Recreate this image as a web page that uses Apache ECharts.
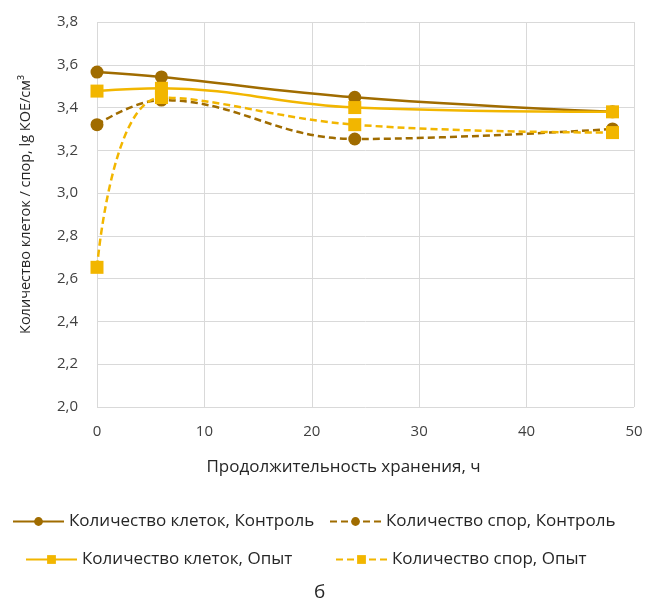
<!DOCTYPE html>
<html>
<head>
<meta charset="utf-8">
<script src="https://cdn.jsdelivr.net/npm/echarts@6/dist/echarts.min.js"></script>
<style>
html,body{margin:0;padding:0;background:#fff;}
#chart{width:654px;height:603px;}
</style>
</head>
<body>
<div id="chart"></div>
<script>
// время хранения, ч
var hours = [0, 6, 24, 48];
var cellsControl = [3.566, 3.543, 3.448, 3.38];
var sporesControl = [3.32, 3.435, 3.253, 3.30];
var cellsExp = [3.477, 3.49, 3.40, 3.38];
var sporesExp = [2.653, 3.447, 3.32, 3.283];

var seriesNames = [
    "Количество клеток, Контроль",
    "Количество спор, Контроль",
    "Количество клеток, Опыт",
    "Количество спор, Опыт"
];

var dark = "#A06C00";
var yellow = "#F2B600";
var font = "Open Sans";

function pairs(y){
    var res = [];
    for (var i = 0; i < hours.length; i++){
        res.push([hours[i], y[i]]);
    }
    return res;
}

function mkSeries(name, y, color, dashed, symbol){
    return {
        name: name,
        type: 'line',
        smooth: 0.4,
        data: pairs(y),
        symbol: symbol,
        symbolSize: 13,
        showSymbol: true,
        lineStyle: {color: color, width: 2.5, type: dashed ? [7, 4] : 'solid'},
        itemStyle: {color: color},
        emphasis: {disabled: true}
    };
}

function mkLegend(name, left, top){
    return {
        data: [name],
        left: left,
        top: top,
        itemWidth: 51,
        itemHeight: 11,
        itemGap: 0,
        textStyle: {fontFamily: font, fontSize: 17, color: '#262626'}
    };
}

var chart = echarts.init(document.getElementById('chart'));
var option = {
    animation: false,
    grid: {left: 97, right: 20, top: 22, bottom: 196},
    xAxis: {
        type: 'value',
        min: 0, max: 50, interval: 10,
        name: 'Продолжительность хранения, ч',
        nameLocation: 'middle',
        nameGap: 52,
        nameTextStyle: {fontFamily: font, fontSize: 17, color: '#262626', padding: [0, 44, 0, 0]},
        axisLine: {show: false},
        axisTick: {show: false},
        axisLabel: {fontFamily: font, fontSize: 15, color: '#404040', margin: 17},
        splitLine: {lineStyle: {color: '#d9d9d9', width: 1}}
    },
    yAxis: {
        type: 'value',
        min: 2.0, max: 3.8, interval: 0.2,
        name: 'Количество клеток / спор, lg КОЕ/см³',
        nameLocation: 'middle',
        nameRotate: 90,
        nameGap: 64,
        nameTextStyle: {fontFamily: font, fontSize: 14.5, color: '#262626', padding: [0, 0, 0, 20]},
        axisLine: {show: false},
        axisTick: {show: false},
        axisLabel: {
            fontFamily: font, fontSize: 15, color: '#404040', margin: 19,
            formatter: function(v){ return v.toFixed(1).replace('.', ','); }
        },
        splitLine: {lineStyle: {color: '#d9d9d9', width: 1}}
    },
    legend: [
        mkLegend(seriesNames[0], 7, 508),
        mkLegend(seriesNames[1], 324, 508),
        mkLegend(seriesNames[2], 20, 546),
        mkLegend(seriesNames[3], 330, 546)
    ],
    graphic: [{
        type: 'text',
        left: 314, top: 583,
        style: {text: 'б', font: '19px "Open Sans"', fill: '#262626'}
    }],
    series: [
        mkSeries(seriesNames[0], cellsControl, dark, false, 'circle'),
        mkSeries(seriesNames[1], sporesControl, dark, true, 'circle'),
        mkSeries(seriesNames[2], cellsExp, yellow, false, 'rect'),
        mkSeries(seriesNames[3], sporesExp, yellow, true, 'rect')
    ]
};
chart.setOption(option);
</script>
</body>
</html>
